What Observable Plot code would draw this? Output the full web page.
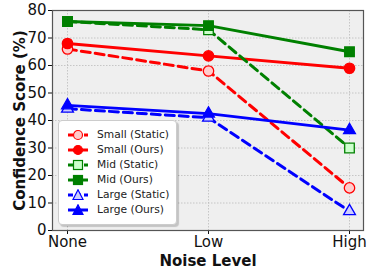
<!DOCTYPE html>
<html><head><meta charset="utf-8">
<script src="https://cdn.jsdelivr.net/npm/d3@7"></script>
<script src="https://cdn.jsdelivr.net/npm/@observablehq/plot@0.6"></script>
<style>
body{margin:0;background:#fff;font-family:"DejaVu Sans",sans-serif;}
#wrap{position:relative;width:367px;height:268px;}
#legend{position:absolute;left:58px;top:120px;width:119px;height:105px;border:1px solid #ccc;border-radius:4px;background:#fff;box-shadow:2px 2px 1px rgba(0,0,0,0.18);font-size:10.7px;color:#222;padding-top:6px;box-sizing:border-box;}
.row{display:flex;align-items:center;height:15px;padding-left:8px;}
.row svg{margin-right:8px;}
</style>
</head><body>
<div id="wrap"></div>
<script>
const levels = ["None", "Low", "High"];
const smallStatic = [66, 58, 15.5];
const smallOurs = [68, 63.5, 59];
const midStatic = [76, 73, 30];
const midOurs = [76, 74.5, 65];
const largeStatic = [44.3, 41, 7];
const largeOurs = [45.5, 42.5, 36.5];
const seriesNames = ["Small (Static)", "Small (Ours)", "Mid (Static)", "Mid (Ours)", "Large (Static)", "Large (Ours)"];
const yTicks = [0, 10, 20, 30, 40, 50, 60, 70, 80];

const styles = [
  {vals: smallStatic, color: "red", fill: "#ffcccc", symbol: "circle", dashed: true},
  {vals: smallOurs, color: "red", fill: "red", symbol: "circle", dashed: false},
  {vals: midStatic, color: "green", fill: "#ccffcc", symbol: "square", dashed: true},
  {vals: midOurs, color: "green", fill: "green", symbol: "square", dashed: false},
  {vals: largeStatic, color: "blue", fill: "#ccccff", symbol: "triangle", dashed: true},
  {vals: largeOurs, color: "blue", fill: "blue", symbol: "triangle", dashed: false}
];

const marks = [
  Plot.frame({fill: "#efefef"}),
  Plot.gridX(levels, {stroke: "#bbb", strokeOpacity: 1, strokeDasharray: "1.5,1.5", strokeWidth: 0.8}),
  Plot.gridY(yTicks, {stroke: "#bbb", strokeOpacity: 1, strokeDasharray: "1.5,1.5", strokeWidth: 0.8}),
  Plot.axisX({ticks: levels, tickSize: 4, tickPadding: 2, fontSize: 15, label: "Noise Level", labelAnchor: "center", labelArrow: "none", labelOffset: 35, color: "#111"}),
  Plot.axisY({ticks: yTicks, tickSize: 4, tickPadding: 2, fontSize: 15, label: "Confidence Score (%)", labelAnchor: "center", labelArrow: "none", labelOffset: 38, color: "#111"})
];
styles.forEach((s, i) => {
  const data = levels.map((l, j) => ({level: l, value: s.vals[j], series: seriesNames[i]}));
  marks.push(Plot.line(data, {x: "level", y: "value", stroke: s.color, strokeWidth: 3, strokeDasharray: s.dashed ? "9,5" : null}));
  marks.push(Plot.dot(data, {x: "level", y: "value", symbol: () => s.symbol, fill: s.fill, stroke: s.color, strokeWidth: 1.3, r: s.symbol === "triangle" ? 4.4 : s.symbol === "square" ? 5.4 : 5.2}));
});
marks.push(Plot.frame({stroke: "#555", strokeWidth: 1.2}));

const chart = Plot.plot({
  width: 367, height: 268,
  marginLeft: 52, marginRight: 4, marginTop: 10, marginBottom: 38,
  style: {fontFamily: "DejaVu Sans, sans-serif", background: "#fff"},
  x: {type: "point", domain: levels, padding: 0.1},
  y: {domain: [0, 80]},
  marks
});
chart.querySelectorAll('[aria-label="x-axis label"] text, [aria-label="y-axis label"] text').forEach(t => {
  t.style.fontWeight = "bold"; t.style.fontSize = "15px";
});
const wrap = document.getElementById("wrap");
wrap.appendChild(chart);

const legend = document.createElement("div");
legend.id = "legend";
styles.forEach((s, i) => {
  const row = document.createElement("div");
  row.className = "row";
  const ns = "http://www.w3.org/2000/svg";
  const svg = document.createElementNS(ns, "svg");
  svg.setAttribute("width", 22); svg.setAttribute("height", 12);
  const line = document.createElementNS(ns, "line");
  line.setAttribute("x1", 1); line.setAttribute("x2", 21); line.setAttribute("y1", 6); line.setAttribute("y2", 6);
  line.setAttribute("stroke", s.color); line.setAttribute("stroke-width", 3);
  if (s.dashed) line.setAttribute("stroke-dasharray", "5,3");
  svg.appendChild(line);
  let m;
  if (s.symbol === "circle") { m = document.createElementNS(ns, "circle"); m.setAttribute("cx", 11); m.setAttribute("cy", 6); m.setAttribute("r", 4.5); }
  else if (s.symbol === "square") { m = document.createElementNS(ns, "rect"); m.setAttribute("x", 6.5); m.setAttribute("y", 1.5); m.setAttribute("width", 9); m.setAttribute("height", 9); }
  else { m = document.createElementNS(ns, "path"); m.setAttribute("d", "M11,0.8 L16,10.5 L6,10.5 Z"); }
  m.setAttribute("fill", s.fill); m.setAttribute("stroke", s.color); m.setAttribute("stroke-width", 1.2);
  svg.appendChild(m);
  row.appendChild(svg);
  const span = document.createElement("span");
  span.textContent = seriesNames[i];
  row.appendChild(span);
  legend.appendChild(row);
});
wrap.appendChild(legend);
</script>
</body></html>
